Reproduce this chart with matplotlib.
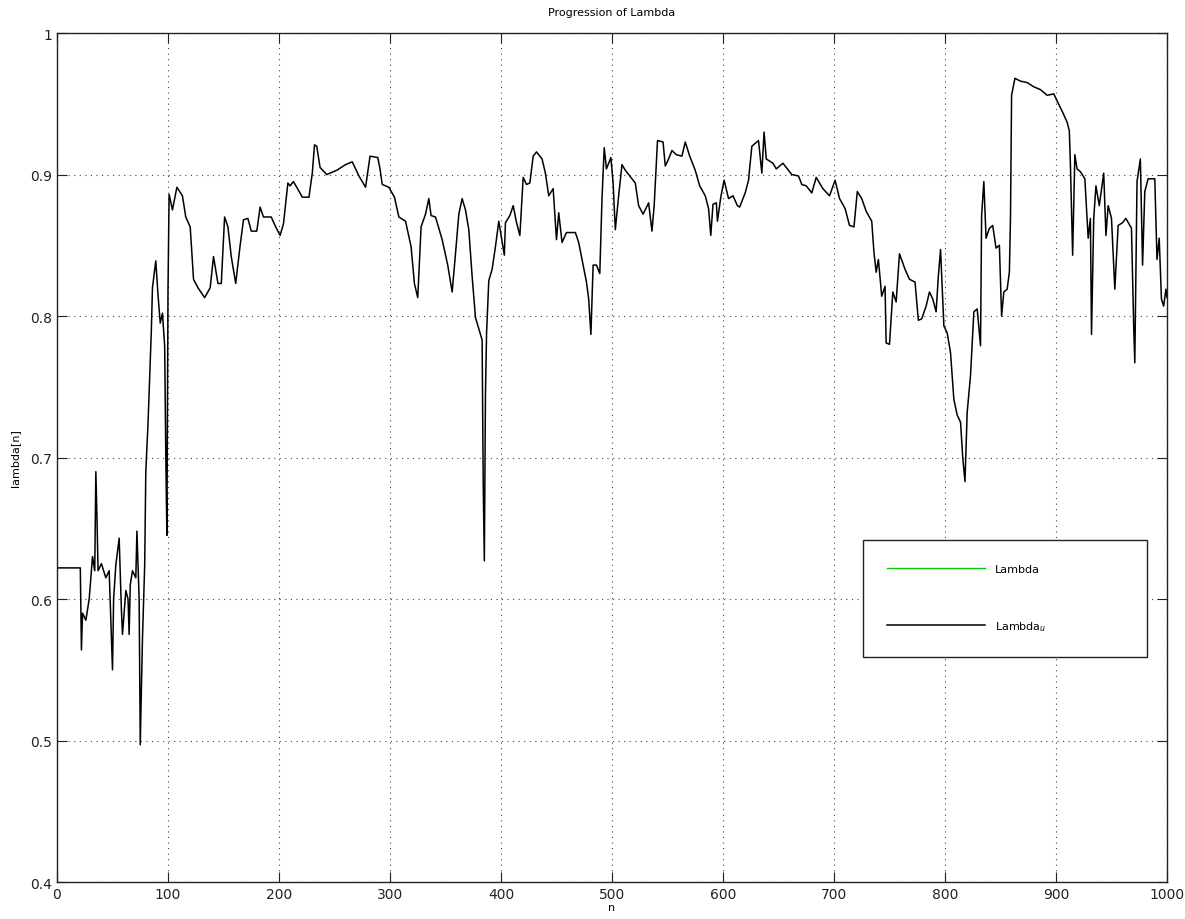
import numpy as np
import matplotlib
matplotlib.use('Agg')
import matplotlib.pyplot as plt

# sample index n and lambda_u value
n_vals = [0, 21, 22, 23, 26, 29, 32, 34, 35, 36,
          37, 40, 44, 47, 50, 51, 53, 56, 58, 59,
          62, 64, 65, 66, 68, 71, 72, 74, 75, 77,
          79, 80, 82, 85, 86, 89, 91, 93, 95, 97,
          98, 99, 100, 101, 104, 108, 113, 116, 120, 123,
          127, 133, 138, 141, 145, 148, 151, 154, 157, 161,
          165, 168, 172, 175, 180, 183, 186, 193, 197, 201,
          204, 208, 210, 213, 216, 221, 227, 230, 232, 234,
          237, 243, 252, 260, 266, 272, 278, 282, 289, 291,
          293, 299, 304, 308, 314, 319, 322, 325, 328, 332,
          335, 337, 341, 347, 352, 356, 359, 362, 365, 368,
          371, 374, 377, 380, 383, 384, 385, 386, 387, 389,
          392, 395, 398, 403, 404, 408, 411, 414, 417, 420,
          423, 426, 429, 432, 437, 440, 443, 447, 450, 452,
          455, 459, 467, 470, 474, 477, 479, 481, 483, 486,
          489, 491, 493, 495, 499, 501, 503, 506, 509, 512,
          516, 521, 524, 528, 533, 536, 538, 541, 546, 548,
          551, 554, 558, 563, 566, 570, 575, 579, 584, 587,
          589, 591, 594, 595, 598, 601, 605, 609, 613, 615,
          620, 623, 626, 632, 635, 637, 639, 645, 648, 654,
          662, 668, 671, 675, 680, 684, 690, 696, 701, 705,
          710, 714, 718, 721, 725, 729, 734, 736, 738, 740,
          743, 746, 747, 750, 753, 756, 759, 764, 768, 773,
          776, 779, 783, 786, 789, 792, 794, 796, 799, 802,
          805, 808, 811, 814, 816, 818, 820, 823, 826, 829,
          832, 833, 835, 837, 840, 843, 846, 849, 851, 853,
          856, 858, 859, 860, 863, 868, 874, 880, 886, 892,
          898, 901, 906, 910, 912, 913, 915, 917, 919, 922,
          926, 929, 931, 932, 934, 936, 939, 943, 945, 947,
          950, 953, 956, 960, 963, 968, 970, 971, 973, 976,
          978, 980, 983, 989, 991, 993, 995, 997, 999, 1000]

lambda_u = [0.622, 0.622, 0.564, 0.59, 0.585, 0.60, 0.63, 0.62, 0.69, 0.658,
            0.62, 0.625, 0.615, 0.62, 0.55, 0.60, 0.624, 0.643, 0.593, 0.575,
            0.606, 0.60, 0.575, 0.61, 0.62, 0.615, 0.648, 0.60, 0.497, 0.572,
            0.624, 0.69, 0.724, 0.79, 0.82, 0.839, 0.815, 0.795, 0.802, 0.779,
            0.703, 0.645, 0.818, 0.886, 0.875, 0.891, 0.885, 0.87, 0.863, 0.826,
            0.82, 0.813, 0.82, 0.842, 0.823, 0.823, 0.87, 0.863, 0.842, 0.823,
            0.85, 0.868, 0.869, 0.86, 0.86, 0.877, 0.87, 0.87, 0.863, 0.857,
            0.865, 0.894, 0.892, 0.895, 0.891, 0.884, 0.884, 0.901, 0.921, 0.92,
            0.905, 0.90, 0.903, 0.907, 0.909, 0.899, 0.891, 0.913, 0.912, 0.904,
            0.893, 0.891, 0.884, 0.87, 0.867, 0.849, 0.823, 0.813, 0.863, 0.872,
            0.883, 0.871, 0.87, 0.854, 0.836, 0.817, 0.844, 0.872, 0.883, 0.875,
            0.861, 0.828, 0.799, 0.791, 0.783, 0.681, 0.627, 0.744, 0.788, 0.825,
            0.833, 0.849, 0.867, 0.843, 0.866, 0.871, 0.878, 0.866, 0.857, 0.898,
            0.893, 0.894, 0.913, 0.916, 0.911, 0.901, 0.885, 0.89, 0.854, 0.873,
            0.852, 0.859, 0.859, 0.852, 0.836, 0.824, 0.812, 0.787, 0.836, 0.836,
            0.83, 0.883, 0.919, 0.904, 0.912, 0.894, 0.861, 0.885, 0.907, 0.903,
            0.899, 0.894, 0.878, 0.872, 0.88, 0.86, 0.878, 0.924, 0.923, 0.906,
            0.911, 0.917, 0.914, 0.913, 0.923, 0.913, 0.903, 0.892, 0.885, 0.876,
            0.857, 0.879, 0.88, 0.867, 0.884, 0.896, 0.883, 0.885, 0.878, 0.877,
            0.887, 0.896, 0.92, 0.924, 0.901, 0.93, 0.911, 0.908, 0.904, 0.908,
            0.90, 0.899, 0.893, 0.892, 0.887, 0.898, 0.89, 0.885, 0.896, 0.883,
            0.876, 0.864, 0.863, 0.888, 0.883, 0.874, 0.867, 0.845, 0.831, 0.84,
            0.814, 0.821, 0.781, 0.78, 0.817, 0.81, 0.844, 0.833, 0.826, 0.824,
            0.797, 0.798, 0.807, 0.817, 0.812, 0.803, 0.828, 0.847, 0.793, 0.788,
            0.774, 0.741, 0.73, 0.725, 0.70, 0.683, 0.732, 0.758, 0.803, 0.805,
            0.779, 0.871, 0.895, 0.855, 0.862, 0.864, 0.848, 0.85, 0.80, 0.817,
            0.819, 0.831, 0.869, 0.956, 0.968, 0.966, 0.965, 0.962, 0.96, 0.956,
            0.957, 0.952, 0.944, 0.937, 0.931, 0.907, 0.843, 0.914, 0.904, 0.902,
            0.897, 0.855, 0.869, 0.787, 0.869, 0.892, 0.878, 0.901, 0.857, 0.878,
            0.869, 0.819, 0.864, 0.866, 0.869, 0.862, 0.793, 0.767, 0.895, 0.911,
            0.836, 0.888, 0.897, 0.897, 0.84, 0.855, 0.812, 0.807, 0.819, 0.813]

x_ticks = [0, 100, 200, 300, 400, 500, 600, 700, 800, 900, 1000]
y_ticks = [0.4, 0.5, 0.6, 0.7, 0.8, 0.9, 1.0]
y_labels = ['0.4', '0.5', '0.6', '0.7', '0.8', '0.9', '1']

fig = plt.figure(figsize=(11.85, 9.2), dpi=100)
ax = fig.add_axes([0.0481, 0.0402, 0.9367, 0.9228])

ax.plot([], [], color='#00cc00', linewidth=1.0, label='Lambda')
ax.plot(n_vals, lambda_u, color='black', linewidth=1.1, label='Lambda$_u$')

ax.set_xlim(0, 1000)
ax.set_ylim(0.4, 1.0)
ax.set_xticks(x_ticks)
ax.set_yticks(y_ticks)
ax.set_yticklabels(y_labels)
ax.tick_params(direction='in', length=7, top=True, right=True, labelsize=10, colors='#222222')
ax.grid(True, linestyle=(0, (1, 4)), color='#444444', linewidth=0.8)
for s in ax.spines.values():
    s.set_color('#222222')
    s.set_linewidth(1.0)

ax.set_title('Progression of Lambda', fontsize=8, pad=13)
ax.set_xlabel('n', fontsize=8, labelpad=1)
ax.set_ylabel('lambda[n]', fontsize=8, labelpad=7)

leg = ax.legend(loc='lower left', bbox_to_anchor=(0.7261, 0.265, 0.2559, 0.141), mode='expand',
                borderaxespad=0, fontsize=8, handlelength=8.8, labelspacing=4.0, borderpad=2.2,
                fancybox=False, framealpha=1, edgecolor='#222222', handletextpad=0.9)
leg.get_frame().set_linewidth(1.0)

plt.savefig('out.png', dpi=100)
